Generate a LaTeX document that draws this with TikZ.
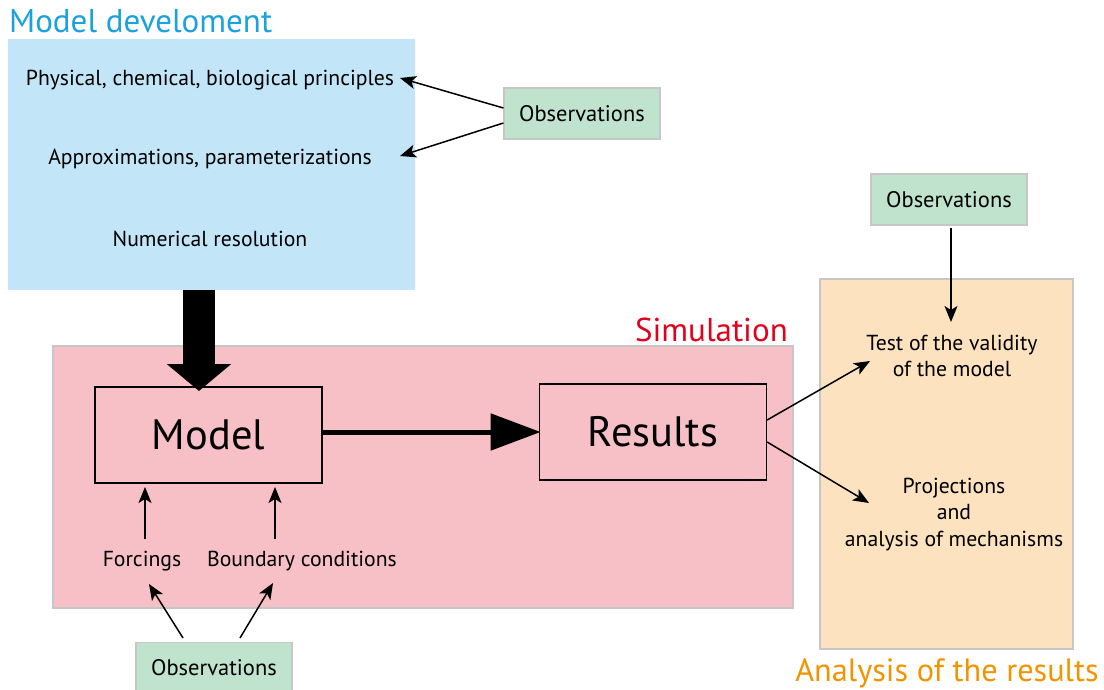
\documentclass[tikz,border=0pt]{standalone}
\usepackage{fontspec}
\setmainfont{PT Sans}
\usetikzlibrary{arrows.meta}
\definecolor{bluefill}{HTML}{C2E6F7}
\definecolor{pinkfill}{HTML}{F7BFC6}
\definecolor{orangefill}{HTML}{FCE2BF}
\definecolor{greenfill}{HTML}{BFE3CD}
\definecolor{framegray}{HTML}{C6C6C6}
\definecolor{titleblue}{HTML}{1BA1DD}
\definecolor{titlered}{HTML}{E3001B}
\definecolor{titleorange}{HTML}{F29400}
\tikzset{
  obsbox/.style={draw=framegray, fill=greenfill, line width=1.2pt, minimum width=156pt, minimum height=51pt, inner sep=0pt, font=\fontsize{22.5}{26}\selectfont},
  txt/.style={font=\fontsize{21.7}{26.5}\selectfont, align=center, inner sep=0pt},
  bigbox/.style={draw=black, line width=1.3pt, minimum width=227pt, minimum height=96pt, inner sep=0pt, font=\fontsize{42.5}{48}\selectfont},
  title/.style={font=\fontsize{33}{38}\selectfont, inner sep=0pt},
  arr/.style={line width=1.5pt, -{Stealth[length=16pt, width=13pt, inset=4pt]}},
}
\begin{document}
\begin{tikzpicture}[x=1pt, y=-1pt]
\useasboundingbox (0,0) rectangle (1104,690);
% panels
\fill[bluefill] (8,39) rectangle (415,290);
\node[title, text=titleblue, anchor=base west] (tblue) at (9,33) {Model develoment};
\draw[framegray, fill=pinkfill, line width=1.2pt] (53,346) rectangle (793,608);
\node[title, text=titlered, anchor=base east] (tred) at (788,341) {Simulation};
\draw[framegray, fill=orangefill, line width=1.2pt] (820,279) rectangle (1073,649);
\node[title, text=titleorange, anchor=base, font=\fontsize{32.3}{36}\selectfont] (torange) at (947,681) {Analysis of the results};
% blue texts
\node[txt] (phys) at (210,80) {Physical, chemical, biological principles};
\node[txt] (approx) at (210,159) {Approximations, parameterizations};
\node[txt] (num) at (210,239) {Numerical resolution};
% observations
\node[obsbox] (obs1) at (582,113.5) {Observations};
\node[obsbox] (obs2) at (949,199.5) {Observations};
\node[obsbox] (obs3) at (214,668) {Observations};
\coordinate (c1) at (400,78);
\coordinate (c2) at (400,156);
\draw[arr] (obs1.west |- 0,108) -- (c1);
\draw[arr] (obs1.west |- 0,123) -- (c2);
% boxes
\node[bigbox] (model) at (208.5,435) {Model};
\node[bigbox] (results) at (653,432) {Results};
% big vertical arrow
\coordinate (bvs) at (199,290);
\draw[line width=32pt, -{Triangle[width=63pt, length=27pt]}] (bvs) -- (199,391);
% big horizontal arrow
\draw[line width=5pt, -{Triangle[width=36pt, length=50pt]}] (model.east) ++(0,-3) -- ++(218,0);
% forcings
\node[txt] (forc) at (142,561) {Forcings};
\node[txt] (bound) at (302,561) {Boundary conditions};
\draw[arr] (forc.north -| 145,0) ++(0,-12) -- (145,487);
\draw[arr] (bound.north -| 275,0) ++(0,-12) -- (275,487);
\draw[arr] (183,638) -- (149,584);
\draw[arr] (240,638) -- (273,583);
% analysis
\node[txt] (test) at (952,356) {Test of the validity\\of the model};
\node[txt] (proj) at (954,514.5) {Projections\\and\\analysis of mechanisms};
\draw[arr] (obs2.south) ++(2,2) -- (951,322);
\draw[arr] (results.east) ++(0,-12) -- (870,361);
\draw[arr] (results.east) ++(0,10) -- (869,503);
\end{tikzpicture}
\end{document}
